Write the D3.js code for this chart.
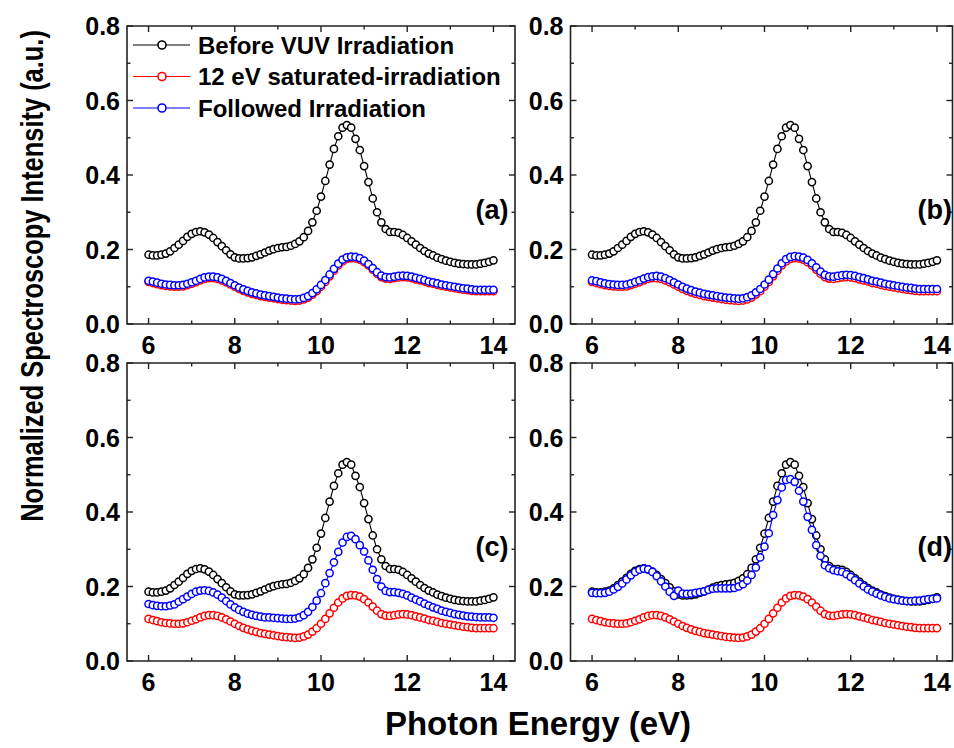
<!DOCTYPE html>
<html lang="en">
<head>
    <meta charset="UTF-8">
    <title>Normalized Spectroscopy Intensity</title>
    <script src="https://d3js.org/d3.v7.min.js"></script>
    <style>
        body, html { margin: 0; padding: 0; background: #fff; }
        text { font-family: "Liberation Sans", Arial, sans-serif; font-weight: bold; fill: #000; }
    </style>
</head>
<body>
    <div id="chart"></div>

    <script>
        // Photon energy grid (eV), one sample every 0.1 eV
        const energy = d3.range(60, 141).map(i => i / 10);

        // Before VUV irradiation (same curve in all four panels)
        const before = [
            .186,.184,.184,.186,.189,.195,.204,.213,.223,.234,
            .242,.247,.249,.246,.240,.231,.220,.209,.198,.187,
            .179,.176,.176,.177,.179,.183,.187,.192,.197,.201,
            .204,.206,.207,.210,.215,.222,.233,.250,.273,.304,
            .342,.384,.428,.470,.504,.527,.534,.527,.497,.467,
            .424,.381,.337,.300,.273,.255,.247,.247,.245,.239,
            .231,.222,.213,.204,.196,.189,.184,.178,.174,.170,
            .167,.164,.162,.161,.160,.160,.160,.162,.164,.167,
            .171
        ];

        // 12 eV saturated-irradiation (same curve in all four panels)
        const saturated = [
            .113,.110,.107,.104,.102,.101,.100,.100,.101,.104,
            .108,.112,.117,.121,.123,.123,.121,.117,.112,.106,
            .100,.094,.089,.085,.081,.078,.075,.073,.071,.069,
            .067,.065,.064,.063,.062,.063,.066,.071,.079,.088,
            .100,.113,.128,.143,.157,.168,.175,.177,.176,.173,
            .166,.157,.146,.135,.126,.122,.121,.123,.125,.126,
            .125,.123,.120,.117,.114,.110,.108,.105,.102,.100,
            .098,.096,.094,.092,.091,.089,.088,.088,.088,.088,
            .088
        ];

        // Followed irradiation, one curve per panel
        const followedA = [
            .116,.114,.111,.108,.106,.105,.104,.104,.105,.108,
            .112,.116,.121,.125,.127,.127,.125,.121,.116,.110,
            .104,.098,.093,.089,.085,.082,.079,.077,.075,.073,
            .071,.069,.068,.067,.066,.067,.070,.075,.083,.093,
            .105,.118,.133,.148,.162,.173,.179,.181,.180,.177,
            .170,.161,.150,.139,.130,.126,.125,.127,.129,.130,
            .129,.127,.124,.121,.118,.114,.112,.109,.106,.104,
            .102,.100,.098,.096,.095,.093,.092,.092,.092,.092,
            .092
        ];
        const followedB = [
            .117,.115,.112,.109,.107,.106,.105,.105,.106,.109,
            .113,.117,.122,.126,.128,.129,.127,.123,.118,.112,
            .106,.100,.095,.091,.087,.084,.081,.079,.077,.075,
            .073,.071,.070,.069,.068,.069,.072,.077,.085,.094,
            .106,.119,.134,.149,.163,.174,.180,.182,.181,.178,
            .172,.163,.152,.141,.132,.128,.127,.129,.131,.132,
            .131,.129,.126,.123,.120,.116,.114,.111,.108,.106,
            .104,.102,.100,.098,.097,.095,.094,.094,.094,.094,
            .094
        ];
        const followedC = [
            .153,.150,.148,.147,.147,.149,.152,.159,.166,.173,
            .180,.186,.189,.190,.188,.184,.178,.170,.161,.152,
            .144,.137,.132,.127,.124,.121,.119,.117,.117,.116,
            .115,.114,.113,.113,.114,.117,.123,.132,.145,.162,
            .182,.209,.236,.265,.293,.318,.333,.336,.327,.311,
            .294,.270,.245,.220,.200,.188,.185,.185,.183,.180,
            .176,.170,.165,.160,.154,.149,.144,.140,.135,.132,
            .129,.126,.124,.122,.120,.119,.118,.117,.117,.117,
            .116
        ];
        const followedD = [
            .183,.182,.182,.183,.186,.192,.199,.208,.219,.230,
            .239,.245,.248,.246,.239,.228,.214,.200,.186,.175,
            .189,.181,.180,.181,.183,.185,.187,.191,.194,.195,
            .195,.195,.195,.196,.200,.206,.216,.231,.251,.278,
            .307,.343,.392,.432,.466,.486,.488,.481,.457,.428,
            .387,.352,.311,.282,.257,.249,.244,.241,.239,.233,
            .226,.217,.208,.200,.192,.186,.181,.176,.172,.168,
            .166,.164,.162,.161,.161,.162,.162,.164,.166,.167,
            .168
        ];

        const panelLabels = ["(a)", "(b)", "(c)", "(d)"];
        const followedSets = [followedA, followedB, followedC, followedD];
        const seriesNames = ["Before VUV Irradiation", "12 eV saturated-irradiation", "Followed Irradiation"];
        const seriesColors = ["#000000", "#ff0000", "#0000ff"];
        const xTicks = [6, 8, 10, 12, 14];
        const xMinor = [7, 9, 11, 13];
        const yTicks = [0, 0.2, 0.4, 0.6, 0.8];
        const yMinor = [0.1, 0.3, 0.5, 0.7];

        const width = 954;
        const height = 748;
        const svg = d3.select("#chart")
            .append("svg")
            .attr("width", width)
            .attr("height", height);

        // panel boxes (pixels)
        const boxes = [
            {x0: 127, x1: 515, y0: 26, y1: 324},
            {x0: 570.5, x1: 958.5, y0: 26, y1: 324},
            {x0: 127, x1: 515, y0: 363, y1: 661},
            {x0: 570.5, x1: 958.5, y0: 363, y1: 661}
        ];

        boxes.forEach((b, i) => {
            const x = d3.scaleLinear().domain([5.5, 14.5]).range([b.x0, b.x1]);
            const y = d3.scaleLinear().domain([0, 0.8]).range([b.y1, b.y0]);
            const right = Math.min(b.x1, width - 1.5);
            const g = svg.append("g");

            // frame
            g.append("path")
                .attr("d", `M${b.x0},${b.y0}H${right}V${b.y1}H${b.x0}Z`)
                .attr("fill", "none")
                .attr("stroke", "#222")
                .attr("stroke-width", 1.6);

            // ticks, pointing inward on all four sides
            const tk = [];
            xTicks.forEach(v => tk.push([x(v), b.y1, x(v), b.y1 - 6], [x(v), b.y0, x(v), b.y0 + 6]));
            xMinor.forEach(v => tk.push([x(v), b.y1, x(v), b.y1 - 3.5], [x(v), b.y0, x(v), b.y0 + 3.5]));
            yTicks.forEach(v => tk.push([b.x0, y(v), b.x0 + 6, y(v)], [right, y(v), right - 6, y(v)]));
            yMinor.forEach(v => tk.push([b.x0, y(v), b.x0 + 3.5, y(v)], [right, y(v), right - 3.5, y(v)]));
            g.selectAll(".tick").data(tk).enter().append("line")
                .attr("x1", d => d[0]).attr("y1", d => d[1])
                .attr("x2", d => d[2]).attr("y2", d => d[3])
                .attr("stroke", "#222").attr("stroke-width", 1.4);

            // tick labels
            g.selectAll(".xl").data(xTicks).enter().append("text")
                .attr("x", d => x(d))
                .attr("y", b.y1 + 30)
                .attr("text-anchor", "middle")
                .attr("font-size", 25)
                .text(d => d);
            g.selectAll(".yl").data(yTicks).enter().append("text")
                .attr("x", b.x0 - 7)
                .attr("y", d => y(d) + 9)
                .attr("text-anchor", "end")
                .attr("font-size", 25)
                .text(d => d3.format(".1f")(d));

            // series: before, saturated, followed
            const sets = [before, saturated, followedSets[i]];
            const line = d3.line().x((d, k) => x(energy[k])).y(d => y(d));
            sets.forEach((vals, s) => {
                g.append("path")
                    .attr("d", line(vals))
                    .attr("fill", "none")
                    .attr("stroke", seriesColors[s])
                    .attr("stroke-width", 1.1);
                g.selectAll(".pt" + s).data(vals).enter().append("circle")
                    .attr("cx", (d, k) => x(energy[k]))
                    .attr("cy", d => y(d))
                    .attr("r", 3.6)
                    .attr("fill", "#fff")
                    .attr("stroke", seriesColors[s])
                    .attr("stroke-width", 1.5);
            });

            // panel letter
            g.append("text")
                .attr("x", x(14.35))
                .attr("y", y(0.3) + 7)
                .attr("text-anchor", "end")
                .attr("font-size", 27)
                .text(panelLabels[i]);

            // legend only in panel (a)
            if (i === 0) {
                const lg = g.selectAll(".lg").data(seriesNames).enter().append("g")
                    .attr("transform", (d, k) => `translate(${b.x0 + 6},${b.y0 + 19 + k * 31.5})`);
                lg.append("line")
                    .attr("x1", 0).attr("x2", 57)
                    .attr("stroke", (d, k) => seriesColors[k])
                    .attr("stroke-width", 1.1);
                lg.append("circle")
                    .attr("cx", 29).attr("r", 4)
                    .attr("fill", "#fff")
                    .attr("stroke", (d, k) => seriesColors[k])
                    .attr("stroke-width", 1.6);
                lg.append("text")
                    .attr("x", 65).attr("y", 8.5)
                    .attr("font-size", 24)
                    .text(d => d);
            }
        });

        // y title: condensed bold, squeezed to the reference length
        const yTitle = svg.append("text")
            .attr("text-anchor", "middle")
            .attr("font-size", 31)
            .text("Normalized Spectroscopy Intensity (a.u.)");
        const natural = yTitle.node().getComputedTextLength();
        const sx = 492 / natural;
        yTitle.attr("transform", `translate(43,276) rotate(-90) scale(${sx},1)`);

        svg.append("text")
            .attr("x", 538)
            .attr("y", 735)
            .attr("text-anchor", "middle")
            .attr("font-size", 33)
            .text("Photon Energy (eV)");
    </script>
</body>
</html>
